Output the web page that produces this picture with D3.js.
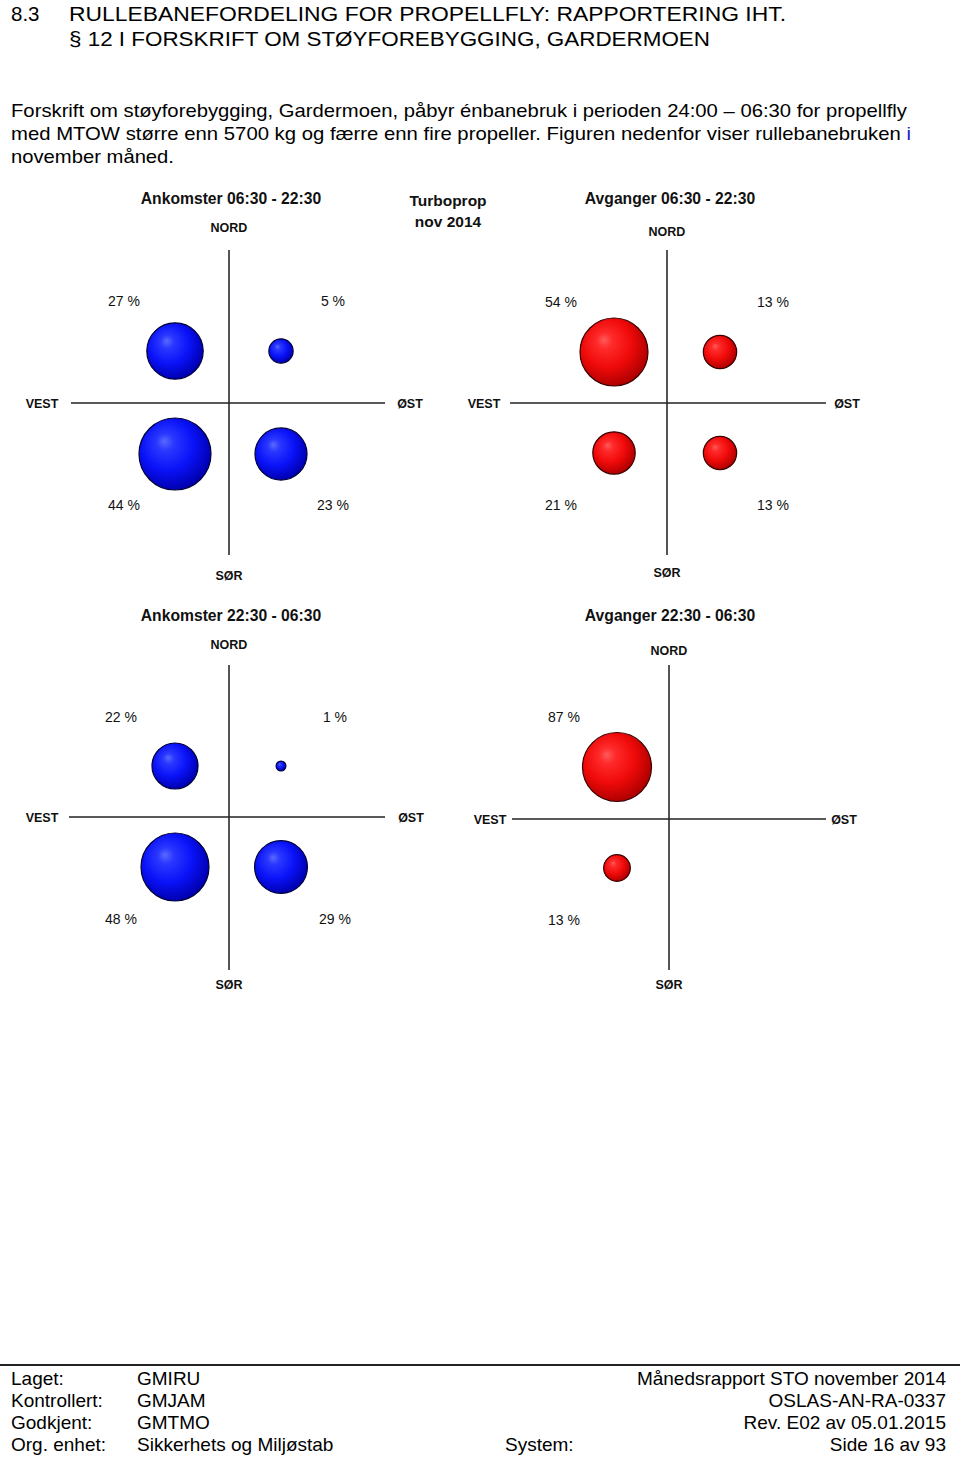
<!DOCTYPE html>
<html>
<head>
<meta charset="utf-8">
<script src="https://cdn.jsdelivr.net/npm/d3@7"></script>
<style>
  html, body { margin: 0; padding: 0; background: #fff; }
  svg { display: block; font-family: "Liberation Sans", Arial, sans-serif; }
</style>
</head>
<body>
<svg id="chart" width="960" height="1457"></svg>
<script>
// ---------- DATA ----------
const quadrants = ["NV", "NØ", "SV", "SØ"];           // north-west, north-east, south-west, south-east
const arrivalsDay = [27, 5, 44, 23];                  // Ankomster 06:30 - 22:30
const departuresDay = [54, 13, 21, 13];               // Avganger 06:30 - 22:30
const arrivalsNight = [22, 1, 48, 29];                // Ankomster 22:30 - 06:30
const departuresNight = [87, 0, 13, 0];               // Avganger 22:30 - 06:30
const panelTitles = ["Ankomster 06:30 - 22:30", "Avganger 06:30 - 22:30",
                     "Ankomster 22:30 - 06:30", "Avganger 22:30 - 06:30"];
const directionLabels = ["NORD", "SØR", "VEST", "ØST"];
const centerTitle = ["Turboprop", "nov 2014"];

const headingNumber = "8.3";
const headingLines = ["RULLEBANEFORDELING FOR PROPELLFLY: RAPPORTERING IHT.",
                      "§ 12 I FORSKRIFT OM STØYFOREBYGGING, GARDERMOEN"];
const footerLeft = [["Laget:", "GMIRU"], ["Kontrollert:", "GMJAM"], ["Godkjent:", "GMTMO"], ["Org. enhet:", "Sikkerhets og Miljøstab"]];
const footerRight = ["Månedsrapport STO november 2014", "OSLAS-AN-RA-0337", "Rev. E02 av 05.01.2015", "Side 16 av 93"];

// ---------- LAYOUT (positions / styles only) ----------
const panels = [
  { values: arrivalsDay, title: panelTitles[0], color: "blue", cx: 229, cy: 403, maxR: 36,
    titleX: 231, titleY: 204, vTop: 250, vBot: 555, hL: 71, hR: 385,
    nordY: 232, sorY: 580, vestX: 42, ostX: 410, labTop: 306, labBot: 510, labDx: [-105, 104], dx: [-54, 52], dy: [-52, 51] },
  { values: departuresDay, title: panelTitles[1], color: "red", cx: 667, cy: 403, maxR: 34,
    titleX: 670, titleY: 204, vTop: 250, vBot: 555, hL: 510, hR: 826,
    nordY: 236, sorY: 577, vestX: 484, ostX: 847, labTop: 307, labBot: 510, labDx: [-106, 106], dx: [-53, 53], dy: [-51, 50] },
  { values: arrivalsNight, title: panelTitles[2], color: "blue", cx: 229, cy: 817, maxR: 34,
    titleX: 231, titleY: 621, vTop: 665, vBot: 970, hL: 69, hR: 385,
    nordY: 649, sorY: 989, vestX: 42, ostX: 411, labTop: 722, labBot: 924, labDx: [-108, 106], dx: [-54, 52], dy: [-51, 50] },
  { values: departuresNight, title: panelTitles[3], color: "red", cx: 669, cy: 819, maxR: 34.5,
    titleX: 670, titleY: 621, vTop: 665, vBot: 970, hL: 512, hR: 826,
    nordY: 655, sorY: 989, vestX: 490, ostX: 844, labTop: 722, labBot: 925, labDx: [-105, 105], dx: [-52, 52], dy: [-52, 49] }
];

const svg = d3.select("#chart");
const defs = svg.append("defs");

function addGradient(id, stops) {
  const g = defs.append("radialGradient").attr("id", id)
    .attr("cx", "42%").attr("cy", "40%").attr("r", "60%").attr("fx", "35%").attr("fy", "32%");
  stops.forEach(s => g.append("stop").attr("offset", s[0]).attr("stop-color", s[1]));
}
addGradient("gBlue", [["0%", "#5a6aff"], ["20%", "#2a38ff"], ["60%", "#0a12f8"], ["100%", "#0000b0"]]);
addGradient("gRed", [["0%", "#ff5a5a"], ["20%", "#ff2a2a"], ["60%", "#f00a0a"], ["100%", "#b00000"]]);

// ---------- HEADER ----------
svg.append("text").attr("x", 11).attr("y", 21).attr("font-size", 20.5).attr("fill", "#000").text(headingNumber);
headingLines.forEach((t, i) => {
  svg.append("text").attr("x", 69).attr("y", 21 + i * 25).attr("font-size", 20.5).attr("fill", "#000")
    .attr("textLength", i === 0 ? 717 : 641).attr("lengthAdjust", "spacingAndGlyphs").text(t);
});

const para = [
  { t: "Forskrift om støyforebygging, Gardermoen, påbyr énbanebruk i perioden 24:00 – 06:30 for propellfly", w: 896 },
  { t: "med MTOW større enn 5700 kg og færre enn fire propeller. Figuren nedenfor viser rullebanebruken ", extra: "i", w: 900 },
  { t: "november måned.", w: 163 }
];
para.forEach((p, i) => {
  const tx = svg.append("text").attr("x", 11).attr("y", 117 + i * 23).attr("font-size", 19).attr("fill", "#000")
    .attr("textLength", p.w).attr("lengthAdjust", "spacingAndGlyphs");
  tx.append("tspan").text(p.t);
  if (p.extra) tx.append("tspan").attr("fill", "#1a1ac8").text(p.extra);
});

// ---------- CENTER TITLE ----------
centerTitle.forEach((t, i) => {
  svg.append("text").attr("x", 448).attr("y", 206 + i * 21).attr("text-anchor", "middle")
    .attr("font-size", 15.5).attr("font-weight", "bold").attr("fill", "#111").text(t);
});

// ---------- PANELS ----------
panels.forEach(p => {
  const g = svg.append("g");
  const rows = ["N", "S"], cols = ["V", "Ø"];
  const x = d3.scaleOrdinal().domain(cols).range([p.cx + p.dx[0], p.cx + p.dx[1]]);
  const y = d3.scaleOrdinal().domain(rows).range([p.cy + p.dy[0], p.cy + p.dy[1]]);
  const lx = d3.scaleOrdinal().domain(cols).range([p.cx + p.labDx[0], p.cx + p.labDx[1]]);
  const ly = d3.scaleOrdinal().domain(rows).range([p.labTop, p.labBot]);
  const r = d3.scaleSqrt().domain([0, d3.max(p.values)]).range([0, p.maxR]);

  const data = quadrants.map((q, i) => ({ q, row: i < 2 ? "N" : "S", col: i % 2 === 0 ? "V" : "Ø", v: p.values[i] }));

  // title
  g.append("text").attr("x", p.titleX).attr("y", p.titleY).attr("text-anchor", "middle")
    .attr("font-size", 15.7).attr("font-weight", "bold").attr("fill", "#111").text(p.title);

  // axes
  g.append("line").attr("x1", p.cx).attr("x2", p.cx).attr("y1", p.vTop).attr("y2", p.vBot)
    .attr("stroke", "#555").attr("stroke-width", 2);
  g.append("line").attr("x1", p.hL).attr("x2", p.hR).attr("y1", p.cy).attr("y2", p.cy)
    .attr("stroke", "#222").attr("stroke-width", 1.5);

  // direction labels
  const dirs = [
    { t: directionLabels[0], x: p.cx, y: p.nordY },
    { t: directionLabels[1], x: p.cx, y: p.sorY },
    { t: directionLabels[2], x: p.vestX, y: p.cy + 4.5 },
    { t: directionLabels[3], x: p.ostX, y: p.cy + 4.5 }
  ];
  g.selectAll("text.dir").data(dirs).join("text").attr("class", "dir")
    .attr("x", d => d.x).attr("y", d => d.y).attr("text-anchor", "middle")
    .attr("font-size", 12.5).attr("font-weight", "bold").attr("fill", "#111").text(d => d.t);

  // bubbles
  const shown = data.filter(d => d.v > 0);
  g.selectAll("circle").data(shown).join("circle")
    .attr("cx", d => x(d.col)).attr("cy", d => y(d.row)).attr("r", d => r(d.v))
    .attr("fill", p.color === "blue" ? "url(#gBlue)" : "url(#gRed)")
    .attr("stroke", p.color === "blue" ? "#00003a" : "#3a0000").attr("stroke-width", 1.2);

  // value labels
  g.selectAll("text.val").data(shown).join("text").attr("class", "val")
    .attr("x", d => lx(d.col)).attr("y", d => ly(d.row)).attr("text-anchor", "middle")
    .attr("font-size", 14).attr("fill", "#111").text(d => d.v + " %");
});

// ---------- FOOTER ----------
svg.append("line").attr("x1", 0).attr("x2", 960).attr("y1", 1365).attr("y2", 1365)
  .attr("stroke", "#222").attr("stroke-width", 2);
footerLeft.forEach((row, i) => {
  const yy = 1385 + i * 22;
  svg.append("text").attr("x", 11).attr("y", yy).attr("font-size", 19).attr("fill", "#000").text(row[0]);
  svg.append("text").attr("x", 137).attr("y", yy).attr("font-size", 19).attr("fill", "#000").text(row[1]);
  svg.append("text").attr("x", 946).attr("y", yy).attr("font-size", 19).attr("fill", "#000")
    .attr("text-anchor", "end").text(footerRight[i]);
});
svg.append("text").attr("x", 505).attr("y", 1451).attr("font-size", 19).attr("fill", "#000").text("System:");
</script>
</body>
</html>
